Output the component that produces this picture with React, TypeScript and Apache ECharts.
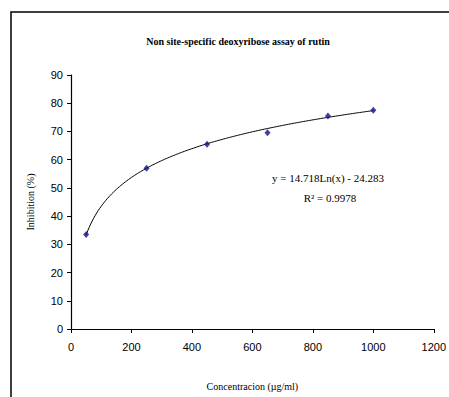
import React, { useEffect, useRef } from "react";
import * as echarts from "echarts";

const concentrations = [50, 250, 450, 650, 850, 1000];
const inhibition = [33.5, 57, 65.5, 69.5, 75.5, 77.5];
const xTicks = [0, 200, 400, 600, 800, 1000, 1200];
const yTicks = [0, 10, 20, 30, 40, 50, 60, 70, 80, 90];
const trendSlope = 14.718;
const trendIntercept = -24.283;
const trendFrom = 50;
const trendTo = 1000;
const titleText = "Non site-specific deoxyribose assay of rutin";
const equationText = "y = 14.718Ln(x) - 24.283";
const r2Text = "R² = 0.9978";

export default function App() {
  const ref = useRef<HTMLDivElement>(null);
  useEffect(() => {
    if (!ref.current) return;
    const chart = echarts.init(ref.current, undefined, { renderer: "svg" });
    const trend: number[][] = [];
    for (let x = trendFrom; x <= trendTo; x += 5) {
      trend.push([x, trendSlope * Math.log(x) + trendIntercept]);
    }
    const serif = "Liberation Serif";
    chart.setOption({
      animation: false,
      backgroundColor: "#ffffff",
      grid: { left: 71, right: 11, top: 75, bottom: 68 },
      title: {
        text: titleText,
        left: 233,
        top: 31,
        textAlign: "center",
        textStyle: { fontFamily: serif, fontSize: 10, fontWeight: "bold", color: "#000" },
      },
      xAxis: {
        type: "value",
        min: xTicks[0],
        max: xTicks[xTicks.length - 1],
        interval: 200,
        name: "Concentracion (µg/ml)",
        nameLocation: "middle",
        nameGap: 52,
        nameTextStyle: { fontFamily: serif, fontSize: 10, color: "#000" },
        axisLine: { lineStyle: { color: "#000", width: 1.2 } },
        axisTick: { show: true, length: 4, inside: false, lineStyle: { color: "#000" } },
        axisLabel: {
          fontFamily: "Liberation Sans",
          fontSize: 11,
          color: "#000",
          margin: 12,
          formatter: (v: number) => String(v),
        },
        splitLine: { show: false },
      },
      yAxis: {
        type: "value",
        min: yTicks[0],
        max: yTicks[yTicks.length - 1],
        interval: 10,
        name: "Inhibition (%)",
        nameLocation: "middle",
        nameGap: 36,
        nameTextStyle: { fontFamily: serif, fontSize: 10, color: "#000" },
        axisLine: { show: true, lineStyle: { color: "#000", width: 1.2 } },
        axisTick: { show: true, length: 4, lineStyle: { color: "#000" } },
        axisLabel: {
          fontFamily: "Liberation Sans",
          fontSize: 11,
          color: "#000",
          margin: 8,
          formatter: (v: number) => String(v),
        },
        splitLine: { show: false },
      },
      series: [
        {
          type: "line",
          data: trend,
          showSymbol: false,
          symbol: "none",
          lineStyle: { color: "#000", width: 1 },
          silent: true,
          z: 2,
        },
        {
          type: "scatter",
          data: concentrations.map((c, i) => [c, inhibition[i]]),
          symbol: "diamond",
          symbolSize: [6, 7],
          itemStyle: { color: "#10108a" },
          z: 3,
        },
      ],
      graphic: [
        {
          type: "rect",
          shape: { x: 11, y: 12, width: 460, height: 420 },
          style: { fill: "none", stroke: "#000", lineWidth: 1.5 },
          silent: true,
        },
        {
          type: "text",
          x: 328,
          y: 178,
          style: {
            text: equationText,
            fontFamily: serif,
            fontSize: 11,
            fill: "#000",
            align: "center",
            verticalAlign: "middle",
          },
        },
        {
          type: "text",
          x: 330,
          y: 198,
          style: {
            text: r2Text,
            fontFamily: serif,
            fontSize: 11,
            fill: "#000",
            align: "center",
            verticalAlign: "middle",
          },
        },
      ],
    });
    return () => chart.dispose();
  }, []);
  return (
    <div
      ref={ref}
      style={{ width: 449, height: 397, position: "fixed", left: 0, top: 0, background: "#fff" }}
    />
  );
}
